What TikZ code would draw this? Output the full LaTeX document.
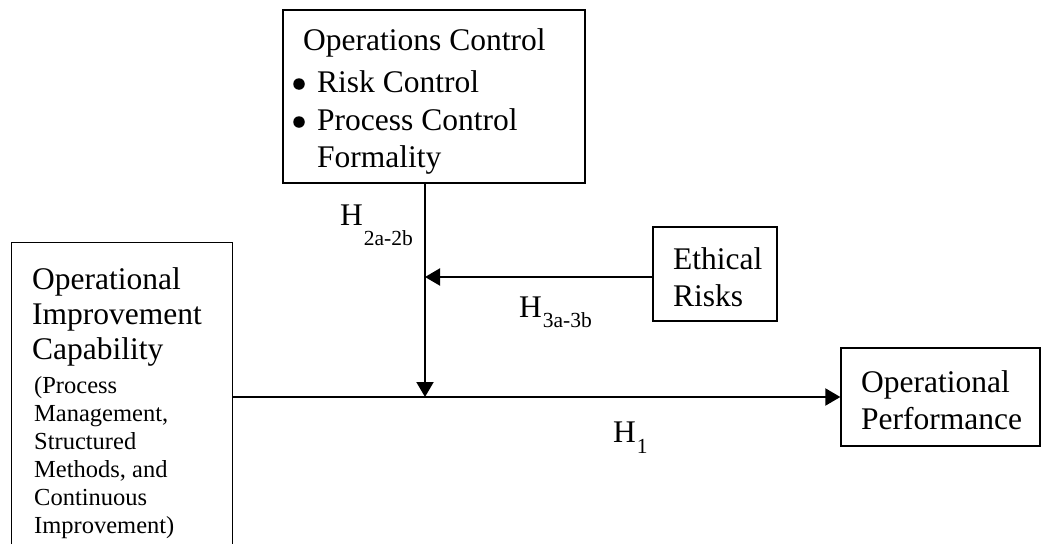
\documentclass[tikz,border=0pt]{standalone}
\usepackage{fontspec}
\setmainfont{Liberation Serif}
\usetikzlibrary{arrows.meta}
\newcommand{\bigtxt}{\fontsize{31.5}{35}\selectfont}
\newcommand{\smalltxt}{\fontsize{24.5}{28}\selectfont}
\newcommand{\subtxt}{\fontsize{21.5}{22}\selectfont}
\tikzset{
  box/.style={draw, line width=1.3pt, inner sep=0pt, minimum width=0pt, minimum height=0pt, rectangle},
  txt/.style={anchor=base west, inner sep=0pt, font=\bigtxt},
  stxt/.style={anchor=base west, inner sep=0pt, font=\smalltxt},
  bullet/.style={circle, fill, inner sep=0pt, minimum size=11.5pt},
  conn/.style={line width=2pt, -{Triangle[length=15pt,width=17pt]}},
}
\begin{document}
\begin{tikzpicture}[x=1pt,y=-1pt]
\useasboundingbox (0,0) rectangle (1042,544);
% boxes
\node[box, minimum width=302pt, minimum height=173pt] (ops) at (434,96.5) {};
\node[box, minimum width=124pt, minimum height=94pt] (eth) at (715,274) {};
\node[box, minimum width=199pt, minimum height=98pt] (perf) at (940.5,397) {};
\node[inner sep=0pt, minimum width=220pt, minimum height=301pt] (oic) at (122,393.5) {};
\draw[line width=1.3pt] (oic.south west) -- (oic.north west) -- (oic.north east) -- (oic.south east);
% texts in operations control
\node[txt] (t1) at (303,50) {Operations Control};
\node[bullet] (b1) at (299,84) {};
\node[txt] (t2) at (317,92) {Risk Control};
\node[bullet] (b2) at (299,122) {};
\node[txt] (t3) at (317,130) {Process Control};
\node[txt] (t4) at (317,167) {Formality};
% left box
\node[txt] (l1) at (32,289) {Operational};
\node[txt] (l2) at (32,324) {Improvement};
\node[txt] (l3) at (32,359) {Capability};
\node[stxt] (s1) at (34,393) {(Process};
\node[stxt] (s2) at (34,421) {Management,};
\node[stxt] (s3) at (34,449) {Structured};
\node[stxt] (s4) at (34,477) {Methods, and};
\node[stxt] (s5) at (34,505) {Continuous};
\node[stxt] (s6) at (34,533) {Improvement)};
% ethical
\node[txt] (e1) at (673,269) {Ethical};
\node[txt] (e2) at (673,306) {Risks};
% performance
\node[txt] (p1) at (861,392) {Operational};
\node[txt] (p2) at (861,429) {Performance};
% labels
\node[txt] (h2) at (340,225) {H\kern1pt\raisebox{-20pt}{\subtxt 2a-2b}};
\node[txt] (h3) at (519,317) {H\kern1pt\raisebox{-10pt}{\subtxt 3a-3b}};
\node[txt] (h1) at (613,442) {H\kern1pt\raisebox{-11pt}{\subtxt 1}};
% connectors
\coordinate (jv) at (425,397);
\coordinate (jh) at (425,277);
\draw[conn] (ops.south -| jv) -- (jv);
\draw[conn] (eth.west |- jh) -- (jh);
\draw[conn] (oic.east |- perf.west) -- (perf.west);
\end{tikzpicture}
\end{document}
